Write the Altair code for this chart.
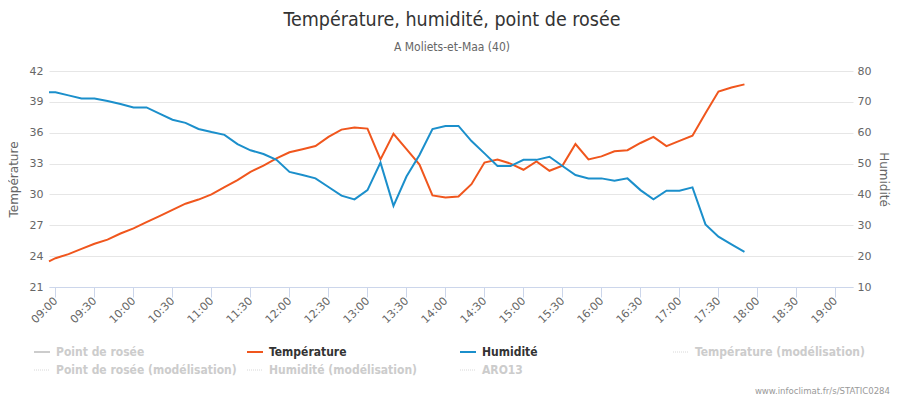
import altair as alt
import pandas as pd

# ---------------- data ----------------
times = ["08:55", "09:00", "09:10", "09:20", "09:30", "09:40", "09:50",
         "10:00", "10:10", "10:20", "10:30", "10:40", "10:50",
         "11:00", "11:10", "11:20", "11:30", "11:40", "11:50",
         "12:00", "12:10", "12:20", "12:30", "12:40", "12:50",
         "13:00", "13:10", "13:20", "13:30", "13:40", "13:50",
         "14:00", "14:10", "14:20", "14:30", "14:40", "14:50",
         "15:00", "15:10", "15:20", "15:30", "15:40", "15:50",
         "16:00", "16:10", "16:20", "16:30", "16:40", "16:50",
         "17:00", "17:10", "17:20", "17:30", "17:40", "17:50"]

temperature = [23.5, 23.8, 24.2, 24.7, 25.2, 25.6, 26.2,
               26.7, 27.3, 27.9, 28.5, 29.1, 29.5,
               30.0, 30.7, 31.4, 32.2, 32.8, 33.5,
               34.1, 34.4, 34.7, 35.6, 36.3, 36.5,
               36.4, 33.4, 35.9, 34.4, 32.9, 29.9,
               29.7, 29.8, 31.0, 33.1, 33.4, 33.0,
               32.4, 33.2, 32.3, 32.8, 34.9, 33.4,
               33.7, 34.2, 34.3, 35.0, 35.6, 34.7,
               35.2, 35.7, 37.9, 40.0, 40.4, 40.7]

humidity = [73.1, 73.1, 72.1, 71.1, 71.1, 70.3, 69.3,
            68.2, 68.2, 66.2, 64.2, 63.2, 61.2,
            60.2, 59.3, 56.3, 54.3, 53.1, 51.2,
            47.3, 46.3, 45.2, 42.4, 39.6, 38.4,
            41.4, 50.3, 36.3, 45.8, 52.8, 61.2,
            62.2, 62.2, 57.3, 53.3, 49.2, 49.2,
            51.2, 51.2, 52.2, 49.2, 46.3, 45.2,
            45.2, 44.4, 45.2, 41.4, 38.4, 41.2,
            41.2, 42.3, 30.3, 26.3, 23.8, 21.4]

x_ticks = ["09:00", "09:30", "10:00", "10:30", "11:00", "11:30", "12:00",
           "12:30", "13:00", "13:30", "14:00", "14:30", "15:00", "15:30",
           "16:00", "16:30", "17:00", "17:30", "18:00", "18:30", "19:00"]
temp_ticks = [21, 24, 27, 30, 33, 36, 39, 42]
hum_ticks = [10, 20, 30, 40, 50, 60, 70, 80]

legend_row1 = ["Point de rosée", "Température", "Humidité", "Température (modélisation)"]
legend_row2 = ["Point de rosée (modélisation)", "Humidité (modélisation)", "ARO13"]

title_text = "Température, humidité, point de rosée"
subtitle_text = "A Moliets-et-Maa (40)"
credits_text = "www.infoclimat.fr/s/STATIC0284"

# ---------------- styles ----------------
DAY = "2023-07-18"
ORANGE = "#f0561d"
BLUE = "#1b8fcb"
HIDDEN = "#cccccc"
W, H = 804, 216
COND = "DejaVu Sans Condensed"
AXFONT = "DejaVu Sans"


def dt(hhmm, sec=0):
    h, m = hhmm.split(":")
    return alt.DateTime(year=2023, month=7, date=18, hours=int(h), minutes=int(m), seconds=sec)


df = pd.DataFrame({
    "time": [f"{DAY}T{t}:00" for t in times],
    "Température": temperature,
    "Humidité": humidity,
})

x_enc = alt.X(
    "time:T",
    scale=alt.Scale(domain=[dt("08:55"), dt("19:13", 30)]),
    axis=alt.Axis(
        values=[dt(t) for t in x_ticks], format="%H:%M", title=None, grid=False,
        domainColor="#ccd6eb", tickColor="#ccd6eb", tickSize=10, labelAngle=315,
        labelAlign="right", labelBaseline="middle", labelPadding=2,
        labelColor="#666666", labelFont=AXFONT, labelFontSize=11,
    ),
)

base = alt.Chart(df)

temp_line = base.mark_line(color=ORANGE, strokeWidth=2).encode(
    x=x_enc,
    y=alt.Y(
        "Température:Q",
        scale=alt.Scale(domain=[21, 42], nice=False, zero=False),
        axis=alt.Axis(
            values=temp_ticks, grid=True, gridColor="#e6e6e6", ticks=False, domain=False,
            labelPadding=6, labelColor="#666666", labelFont=AXFONT, labelFontSize=11,
            title="Température", titleColor="#666666", titleFont=AXFONT, titleFontSize=12,
            titleFontWeight="normal", titlePadding=9,
        ),
    ),
)

hum_line = base.mark_line(color=BLUE, strokeWidth=2).encode(
    x=x_enc,
    y=alt.Y(
        "Humidité:Q",
        scale=alt.Scale(domain=[10, 80], nice=False, zero=False),
        axis=alt.Axis(
            orient="right", values=hum_ticks, grid=False, ticks=False, domain=False,
            labelPadding=4, labelColor="#666666", labelFont=AXFONT, labelFontSize=11,
            title="Humidité", titleColor="#666666", titleFont=AXFONT, titleFontSize=12,
            titleFontWeight="normal", titlePadding=6,
        ),
    ),
)

one = alt.Data(values=[{}])


def text_layer(label, x, y, size, color, weight="normal", align="left", font=COND):
    return alt.Chart(one).mark_text(
        text=label, align=align, baseline="middle", fontSize=size, color=color,
        fontWeight=weight, font=font,
    ).encode(x=alt.value(x), y=alt.value(y))


def rule_layer(x0, x1, y, color, width, dash=None):
    kw = dict(color=color, strokeWidth=width)
    if dash:
        kw["strokeDash"] = dash
    return alt.Chart(one).mark_rule(**kw).encode(
        x=alt.value(x0), x2=alt.value(x1), y=alt.value(y)
    )


layers = [temp_line, hum_line]

# title & subtitle
layers.append(text_layer(title_text, W / 2 + 1, -51, 19.5, "#333333", align="center"))
layers.append(text_layer(subtitle_text, W / 2 + 1, -24, 12, "#666666", align="center"))

# legend
COL0, COLSTEP = -15, 213
ROW_Y = [281, 299]
legend_items = [
    (0, 0, legend_row1[0], HIDDEN, HIDDEN, "solid"),
    (0, 1, legend_row1[1], ORANGE, "#333333", "solid"),
    (0, 2, legend_row1[2], BLUE, "#333333", "solid"),
    (0, 3, legend_row1[3], HIDDEN, HIDDEN, "dot"),
    (1, 0, legend_row2[0], HIDDEN, HIDDEN, "dot"),
    (1, 1, legend_row2[1], HIDDEN, HIDDEN, "dot"),
    (1, 2, legend_row2[2], HIDDEN, HIDDEN, "dot"),
]
for row, col, label, sym_color, txt_color, style in legend_items:
    x0 = COL0 + col * COLSTEP
    y = ROW_Y[row]
    if style == "solid":
        layers.append(rule_layer(x0, x0 + 16, y, sym_color, 2))
    else:
        layers.append(rule_layer(x0, x0 + 16, y, "#d8d8d8", 1, [1, 1]))
    layers.append(text_layer(label, x0 + 22, y, 12, txt_color, weight="bold"))

# credits
layers.append(text_layer(credits_text, 841, 320, 9.5, "#999999", align="right"))

chart = alt.layer(*layers).resolve_scale(y="independent").properties(
    width=W,
    height=H,
    padding={"left": 41, "top": 63, "right": 39, "bottom": 110},
    autosize=alt.AutoSizeParams(type="none"),
).configure_view(stroke=None)

chart.save("out.html", embed_options={"renderer": "svg", "actions": False})
